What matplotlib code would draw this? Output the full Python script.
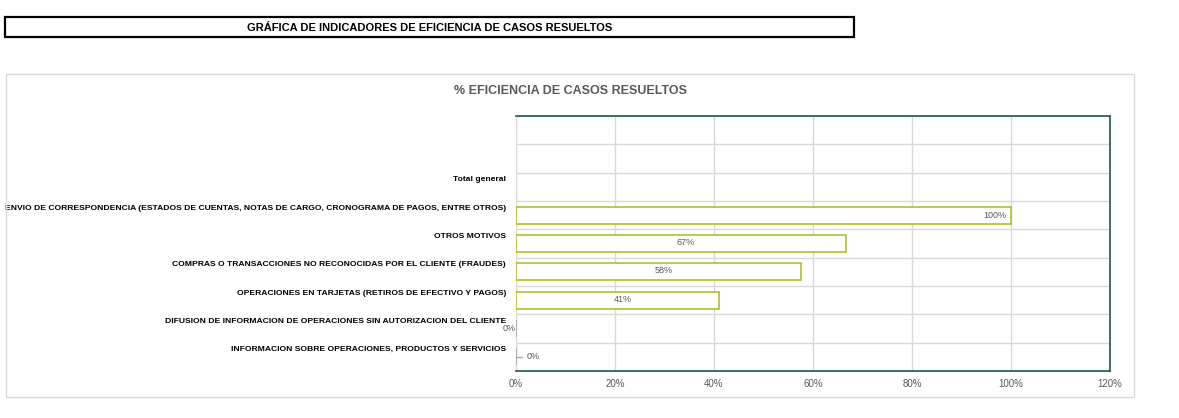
import matplotlib.pyplot as plt
import matplotlib.transforms as mtransforms
from matplotlib.patches import Rectangle

# datos del grafico (de abajo hacia arriba)
categorias = [
    "INFORMACION SOBRE OPERACIONES, PRODUCTOS Y SERVICIOS",
    "DIFUSION DE INFORMACION DE OPERACIONES SIN AUTORIZACION DEL CLIENTE",
    "OPERACIONES EN TARJETAS (RETIROS DE EFECTIVO Y PAGOS)",
    "COMPRAS O TRANSACCIONES NO RECONOCIDAS POR EL CLIENTE (FRAUDES)",
    "OTROS MOTIVOS",
    "ENVIO DE CORRESPONDENCIA (ESTADOS DE CUENTAS, NOTAS DE CARGO, CRONOGRAMA DE PAGOS, ENTRE OTROS)",
    "Total general",
    "",
    "",
]
eficiencia = [0.0, 0.0, 0.41, 0.575, 0.666, 1.0, None, None, None]
etiquetas = ["0%", "0%", "41%", "58%", "67%", "100%", "", "", ""]
ticks_x = [0, 0.2, 0.4, 0.6, 0.8, 1.0, 1.2]
ticks_txt = ["0%", "20%", "40%", "60%", "80%", "100%", "120%"]

verde = "#a5c330"
verde_osc = "#1d5a44"
gris_txt = "#595959"
fuente = ["Liberation Sans Narrow", "Liberation Sans", "DejaVu Sans"]

plt.rcParams["font.family"] = fuente

fig = plt.figure(figsize=(11.79, 4.18), dpi=100)

# cuadro del titulo
fig.patches.append(Rectangle((5 / 1179, 1 - 37 / 418), 849 / 1179, 20 / 418,
                             transform=fig.transFigure, fill=False,
                             edgecolor="black", linewidth=1.6))
fig.text(430 / 1179, 1 - 28 / 418, "GRÁFICA DE INDICADORES DE EFICIENCIA DE CASOS RESUELTOS",
         ha="center", va="center", fontsize=8, fontweight="bold")

# marco del grafico
fig.patches.append(Rectangle((6 / 1179, 1 - 397 / 418), 1128 / 1179, 323 / 418,
                             transform=fig.transFigure, fill=False,
                             edgecolor="#d9d9d9", linewidth=1))
fig.text(570 / 1179, 1 - 91 / 418, "% EFICIENCIA DE CASOS RESUELTOS",
         ha="center", va="center", fontsize=9, fontweight="bold", color=gris_txt)

ax = fig.add_axes([516 / 1179, 1 - 371 / 418, 594 / 1179, 255 / 418])
pos = list(range(len(categorias)))

for i, v in enumerate(eficiencia):
    if v is None:
        continue
    ax.barh(i, v, height=0.6, color="white", edgecolor=verde if v > 0 else "#a6a6a6",
            linewidth=1.2, zorder=3)

ax.set_xlim(0, 1.2)
ax.set_ylim(-0.5, len(categorias) - 0.5)
ax.set_xticks(ticks_x)
ax.set_xticklabels(ticks_txt, color=gris_txt, fontsize=7)
ax.set_yticks([p - 0.5 for p in pos] + [len(categorias) - 0.5])
ax.set_yticklabels([])
ax.tick_params(length=0, axis="both")
ax.tick_params(axis="x", pad=6)
ax.grid(True, color="#d9d9d9", linewidth=1, zorder=0)

for lado in ["top", "right", "bottom"]:
    ax.spines[lado].set_color(verde_osc)
    ax.spines[lado].set_linewidth(1.2)
ax.spines["left"].set_color("#d9d9d9")

# nombres de categorias, un poco por encima del centro
trans = mtransforms.blended_transform_factory(ax.transAxes, ax.transData)
off = mtransforms.ScaledTranslation(-10 / 100, 0, fig.dpi_scale_trans)
for i, c in enumerate(categorias):
    ax.text(0, i + 0.25, c, transform=trans + off, ha="right", va="center",
            fontsize=6.1, fontweight="bold", color="black")

# etiquetas de datos
for i, (v, t) in enumerate(zip(eficiencia, etiquetas)):
    if v is None or t == "":
        continue
    if v >= 0.99:
        ax.text(v - 0.01, i, t, ha="right", va="center", fontsize=6.5, color=gris_txt, zorder=4)
    elif v > 0:
        ax.text(v / 2 + 0.01, i + 0.03, t, ha="center", va="center", fontsize=6.5,
                color=gris_txt, zorder=4)
    elif i == 1:
        ax.text(-0.013, i, t, ha="center", va="center", fontsize=6.5, color=gris_txt,
                clip_on=False)
    else:
        ax.plot([0, 0.012], [i, i], color="#a6a6a6", linewidth=1, zorder=4)
        ax.text(0.022, i, t, ha="left", va="center", fontsize=6.5, color=gris_txt, zorder=4)

fig.savefig("out.png", dpi=100)
